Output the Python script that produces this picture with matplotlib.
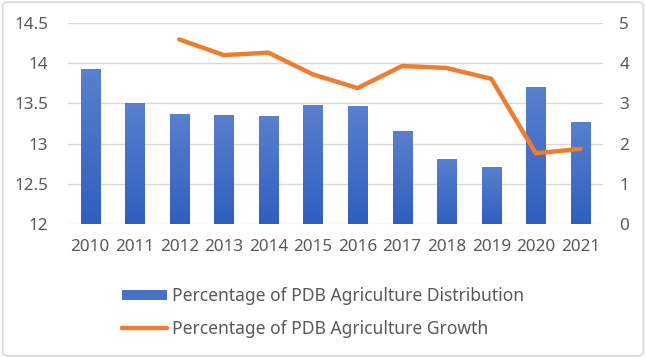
import matplotlib
matplotlib.use("Agg")
import matplotlib.pyplot as plt
from matplotlib.patches import FancyBboxPatch
from matplotlib.colors import LinearSegmentedColormap
import numpy as np

years = ["2010", "2011", "2012", "2013", "2014", "2015", "2016", "2017", "2018", "2019", "2020", "2021"]
distribution = [13.93, 13.51, 13.37, 13.36, 13.34, 13.48, 13.47, 13.16, 12.81, 12.71, 13.70, 13.27]
growth = [None, None, 4.59, 4.20, 4.26, 3.72, 3.38, 3.93, 3.88, 3.61, 1.76, 1.87]

plt.rcParams['font.family'] = ['Noto Sans', 'DejaVu Sans']
txt = '#595959'

fig = plt.figure(figsize=(6.46, 3.58), dpi=100)
fig.patches.append(FancyBboxPatch((0.004, 0.006), 0.992, 0.988, boxstyle="round,pad=0,rounding_size=0.01",
                                  transform=fig.transFigure, fc='white', ec='#d9d9d9', lw=1.2, zorder=-1))
ax = fig.add_axes([0.105, 0.374, 0.828, 0.562])
x = np.arange(len(years))
bars = ax.bar(x, np.array(distribution) - 12, bottom=12, width=0.43, color='#4472C4', zorder=3,
              label='Percentage of PDB Agriculture Distribution')
ax.set_ylim(12, 14.5)
ax.set_xlim(-0.5, len(years) - 0.5)

# gradient fill for each bar
cmap = LinearSegmentedColormap.from_list('g', ['#2F5FBF', '#5A80CE'])
grad = np.linspace(0, 1, 256).reshape(-1, 1)
for b in bars:
    bx, by = b.get_x(), b.get_y()
    bw, bh = b.get_width(), b.get_height()
    im = ax.imshow(grad, cmap=cmap, aspect='auto', origin='lower',
                   extent=[bx, bx + bw, 12, 12 + 2.5 * 0 + bh], zorder=3.5)
    im.set_clip_path(b)
ax.set_xlim(-0.5, len(years) - 0.5)
ax.set_ylim(12, 14.5)

ax.set_yticks([12, 12.5, 13, 13.5, 14, 14.5])
ax.set_yticklabels(['12', '12.5', '13', '13.5', '14', '14.5'])
ax.set_xticks(x)
ax.set_xticklabels(years)
ax.grid(axis='y', color='#d9d9d9', lw=1, zorder=0)
for s in ax.spines.values():
    s.set_visible(False)
ax.tick_params(length=0, colors=txt, labelsize=12.3)
ax.tick_params(axis='x', pad=11)
ax.tick_params(axis='y', pad=14)

ax2 = ax.twinx()
gx = [i for i, v in enumerate(growth) if v is not None]
gy = [v for v in growth if v is not None]
line, = ax2.plot(gx, gy, color='#ED7D31', lw=3.2, solid_capstyle='round', solid_joinstyle='round', zorder=4,
                 label='Percentage of PDB Agriculture Growth')
ax2.set_ylim(0, 5)
ax2.set_yticks([0, 1, 2, 3, 4, 5])
for s in ax2.spines.values():
    s.set_visible(False)
ax2.tick_params(length=0, colors=txt, labelsize=12.3, pad=12)

fig.legend([bars, line], ['Percentage of PDB Agriculture Distribution', 'Percentage of PDB Agriculture Growth'],
           loc='center', bbox_to_anchor=(0.5, 0.128), frameon=False, ncol=1, fontsize=12.6,
           labelcolor=txt, handlelength=2.6, handletextpad=0.3, labelspacing=0.85,
           handleheight=0.5)

fig.savefig('out.png', dpi=100)
